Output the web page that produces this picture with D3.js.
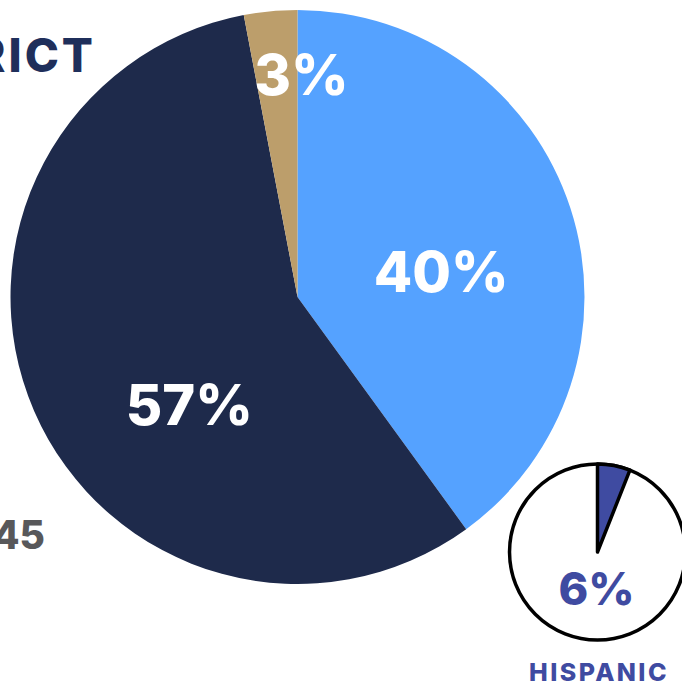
<!DOCTYPE html>
<html>
<head>
<meta charset="utf-8">
<script src="https://cdn.jsdelivr.net/npm/d3@7"></script>
<style>
  html, body { margin: 0; padding: 0; background: #fff; }
  svg { display: block; }
  text { font-family: "Inter", "Lato", sans-serif; font-weight: 800; }
</style>
</head>
<body>
<svg id="chart" width="682" height="683"></svg>
<script>
// Main district breakdown (percent)
const categories = ["Group A", "Group B", "Group C"];
const values = [40, 57, 3];
const colors = ["#55A2FF", "#1E2A4B", "#BC9E6B"];

// Hispanic share (percent)
const hispanicValue = [6];
const hispanicLabel = "HISPANIC";

// Side texts
const titleText = "DISTRICT";
const countText = "45";

// Label placement (degrees clockwise from top, radius in px) — layout only
const labelPlace = [
  { angle: 80, r: 146 },
  { angle: 225, r: 153 },
  { angle: 1, r: 222 }
];

const svg = d3.select("#chart");

const cx = 297.5, cy = 297, R = 287;
const pie = d3.pie().sort(null).value(d => d);
const arc = d3.arc().innerRadius(0).outerRadius(R);

const g = svg.append("g").attr("transform", `translate(${cx},${cy})`);
const arcs = pie(values);

g.selectAll("path.slice")
  .data(arcs)
  .join("path")
  .attr("class", "slice")
  .attr("d", arc)
  .attr("fill", (d, i) => colors[i]);

g.selectAll("text.lbl")
  .data(arcs)
  .join("text")
  .attr("class", "lbl")
  .attr("x", (d, i) => labelPlace[i].r * Math.sin(labelPlace[i].angle * Math.PI / 180))
  .attr("y", (d, i) => -labelPlace[i].r * Math.cos(labelPlace[i].angle * Math.PI / 180))
  .attr("text-anchor", "middle")
  .attr("dy", "0.36em")
  .attr("fill", "#fff")
  .attr("font-size", 56)
  .text(d => d.data + "%");

// Title and count fragments
svg.append("text")
  .attr("x", 96).attr("y", 72)
  .attr("text-anchor", "end")
  .attr("fill", "#1F2F5B")
  .attr("font-size", 46)
  .attr("letter-spacing", 3)
  .text(titleText);

svg.append("text")
  .attr("x", 45).attr("y", 549)
  .attr("text-anchor", "end")
  .attr("fill", "#58585A")
  .attr("font-size", 39)
  .text(countText);

// Small Hispanic pie
const scx = 597.5, scy = 552, sr = 88;
const sg = svg.append("g").attr("transform", `translate(${scx},${scy})`);
const sScale = d3.scaleLinear().domain([0, 100]).range([0, 2 * Math.PI]);

sg.append("circle")
  .attr("r", sr)
  .attr("fill", "#fff")
  .attr("stroke", "#000")
  .attr("stroke-width", 3.5);

sg.append("path")
  .datum(hispanicValue[0])
  .attr("d", d => d3.arc()({ innerRadius: 0, outerRadius: sr, startAngle: 0, endAngle: sScale(d) }))
  .attr("fill", "#3F4BA1")
  .attr("stroke", "#000")
  .attr("stroke-width", 3.5)
  .attr("stroke-linejoin", "round");

sg.append("text")
  .attr("x", -1).attr("y", 53)
  .attr("text-anchor", "middle")
  .attr("fill", "#3F4BA1")
  .attr("font-size", 45)
  .text(hispanicValue[0] + "%");

svg.append("text")
  .attr("x", scx + 1.5).attr("y", 681)
  .attr("text-anchor", "middle")
  .attr("fill", "#3F4BA1")
  .attr("font-size", 25)
  .attr("letter-spacing", 2.4)
  .text(hispanicLabel);
</script>
</body>
</html>
